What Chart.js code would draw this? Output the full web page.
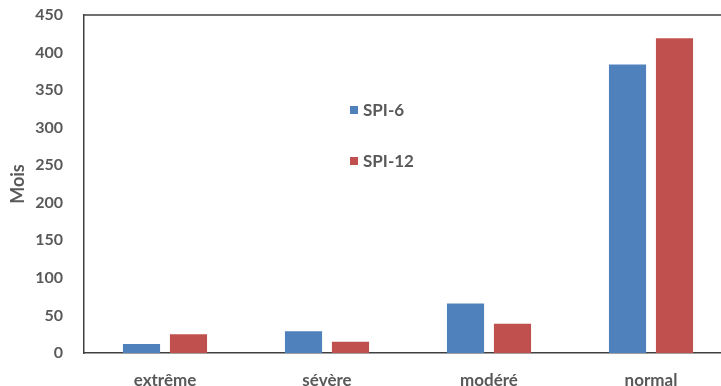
<!DOCTYPE html>
<html lang="fr">

<head>
    <meta charset="UTF-8">
    <title>SPI - Mois</title>
    <script src="https://cdn.jsdelivr.net/npm/chart.js"></script>
    <style>
        html, body { margin: 0; padding: 0; background: #fff; overflow: hidden; }
        #wrap { width: 732px; height: 386px; position: relative; }
    </style>
</head>

<body>
    <div id="wrap">
        <canvas id="spiChart"></canvas>
    </div>
    <script>
        // Data
        const categories = ['extrême', 'sévère', 'modéré', 'normal'];
        const spi6 = [12, 29, 66, 384];
        const spi12 = [25, 15, 39, 419];
        const yTicks = [0, 50, 100, 150, 200, 250, 300, 350, 400, 450];

        const textColor = '#595959';
        const lineColor = '#404040';
        const font = 'Lato';

        // Top border of the plot box
        const topBorder = {
            id: 'topBorder',
            afterDraw(chart) {
                const { ctx, chartArea } = chart;
                ctx.save();
                ctx.strokeStyle = lineColor;
                ctx.lineWidth = 1.5;
                ctx.beginPath();
                ctx.moveTo(chartArea.left, chartArea.top);
                ctx.lineTo(chartArea.right, chartArea.top);
                ctx.stroke();
                ctx.restore();
            }
        };

        // Legend drawn inside the plot, stacked with wide spacing
        const innerLegend = {
            id: 'innerLegend',
            afterDraw(chart) {
                const { ctx } = chart;
                ctx.save();
                ctx.font = 'bold 17px ' + font;
                ctx.textBaseline = 'middle';
                chart.data.datasets.forEach((ds, i) => {
                    const y = 110 + i * 51;
                    ctx.fillStyle = ds.backgroundColor;
                    ctx.fillRect(350, y - 4, 8, 8);
                    ctx.fillStyle = textColor;
                    ctx.fillText(ds.label, 363, y + 1);
                });
                ctx.restore();
            }
        };

        new Chart(document.getElementById('spiChart'), {
            type: 'bar',
            data: {
                labels: categories,
                datasets: [
                    { label: 'SPI-6', data: spi6, backgroundColor: '#4F81BD' },
                    { label: 'SPI-12', data: spi12, backgroundColor: '#C0504D' }
                ]
            },
            options: {
                responsive: true,
                maintainAspectRatio: false,
                animation: false,
                categoryPercentage: 0.58,
                barPercentage: 0.79,
                layout: { padding: { top: 15, left: 0, right: 0, bottom: 0 } },
                plugins: {
                    legend: { display: false },
                    tooltip: { enabled: false }
                },
                scales: {
                    x: {
                        grid: { display: false, drawTicks: false },
                        border: { color: lineColor, width: 1.5 },
                        ticks: {
                            color: textColor,
                            padding: 17,
                            font: { family: font, size: 17, weight: 'bold' }
                        },
                        afterFit(scale) { scale.height = 33; }
                    },
                    y: {
                        min: 0,
                        max: 450,
                        grid: { display: false, drawTicks: false },
                        border: { color: lineColor, width: 1.5 },
                        afterBuildTicks(scale) {
                            scale.ticks = yTicks.map(v => ({ value: v }));
                        },
                        ticks: {
                            color: textColor,
                            padding: 21,
                            font: { family: font, size: 16, weight: 'bold' }
                        },
                        title: {
                            display: true,
                            text: 'Mois',
                            color: textColor,
                            padding: { top: 7, bottom: 0 },
                            font: { family: font, size: 18, weight: 'bold' }
                        },
                        afterFit(scale) {
                            scale.width = 84;
                            scale.paddingTop = 0;
                            scale.paddingBottom = 0;
                        }
                    }
                }
            },
            plugins: [topBorder, innerLegend]
        });
    </script>
</body>

</html>
